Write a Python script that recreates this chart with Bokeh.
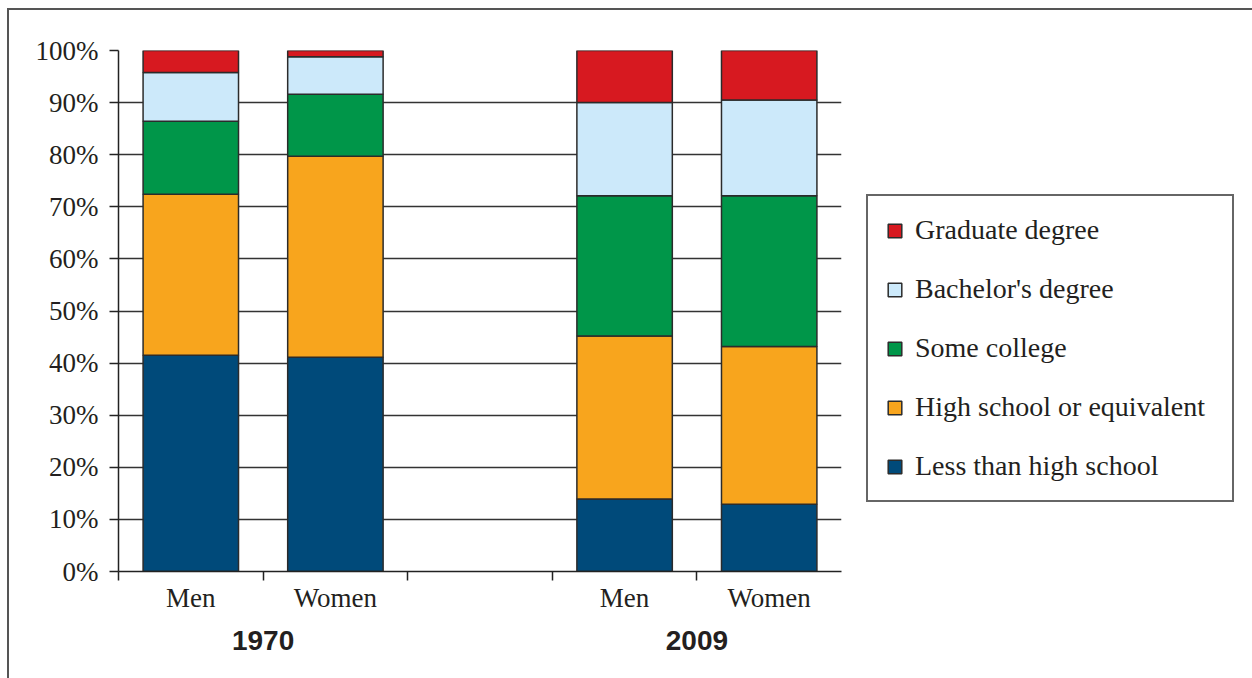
from bokeh.plotting import figure
from bokeh.models import (Range1d, FixedTicker, PrintfTickFormatter, LinearAxis,
                          Legend, LegendItem)
from bokeh.embed import file_html
from bokeh.resources import INLINE

# ---- data ----
years = ["1970", "1970", "2009", "2009"]
sexes = ["Men", "Women", "Men", "Women"]
levels = ["Less than high school", "High school or equivalent", "Some college",
          "Bachelor's degree", "Graduate degree"]
less_than_hs = [41.5, 41.1, 13.9, 12.9]
high_school = [30.9, 38.6, 31.3, 30.3]
some_college = [14.0, 11.9, 26.9, 28.9]
bachelors = [9.4, 7.2, 17.9, 18.4]
graduate = [4.2, 1.2, 10.0, 9.5]
colors = ["#004A7A", "#F8A51D", "#009649", "#CCE9FA", "#D71920"]
y_ticks = list(range(0, 101, 10))

# slot positions: one empty slot between the two year groups
group_order = ["1970", "2009"]
pos = [i + 0.5 + group_order.index(y) for i, y in enumerate(years)]
n_slots = len(years) + len(group_order) - 1
bounds = list(range(n_slots))
group_centers = [sum(p_ for p_, y in zip(pos, years) if y == g) / years.count(g)
                 for g in group_order]

data = dict(x=pos)
keys = ["lths", "hs", "sc", "ba", "gr"]
for k, arr in zip(keys, [less_than_hs, high_school, some_college, bachelors, graduate]):
    data[k] = arr

serif = "Liberation Serif"
txt = "#231F20"

p = figure(frame_width=723, frame_height=521, output_backend="svg", toolbar_location=None,
           x_range=Range1d(0, n_slots), y_range=Range1d(0, 100),
           min_border_left=111, min_border_right=411, min_border_top=42,
           min_border_bottom=107)
p.background_fill_color = None
p.border_fill_color = None
p.outline_line_color = None
p.styles = {"box-shadow": "inset 2px 2px 0 0 #555555",
            "margin-left": "7px", "margin-top": "8px"}

renderers = p.vbar_stack(keys, x="x", width=0.66, source=data, color=colors,
                         line_color="#2b2b2b", line_width=1.5)

# y axis
ya = p.yaxis[0]
ya.ticker = FixedTicker(ticks=y_ticks)
ya.formatter = PrintfTickFormatter(format="%d%%")
ya.major_tick_out = 9
ya.major_tick_in = 0
ya.minor_tick_line_color = None
ya.axis_line_color = "#222"
ya.axis_line_width = 1.5
ya.major_tick_line_color = "#222"
ya.major_tick_line_width = 1.5
ya.major_label_text_font = serif
ya.major_label_text_font_size = "27px"
ya.major_label_text_color = txt
ya.major_label_standoff = 11

p.ygrid.ticker = FixedTicker(ticks=y_ticks)
p.ygrid.grid_line_color = "#333"
p.ygrid.grid_line_width = 1.3
p.xgrid.visible = False

# x axis (category labels, ticks at slot boundaries)
xa = p.xaxis[0]
xa.ticker = FixedTicker(ticks=pos, minor_ticks=bounds)
xa.major_label_overrides = {p_: s for p_, s in zip(pos, sexes)}
xa.major_tick_out = 0
xa.major_tick_in = 0
xa.major_tick_line_color = None
xa.minor_tick_out = 9
xa.minor_tick_in = 0
xa.minor_tick_line_color = "#222"
xa.minor_tick_line_width = 1.5
xa.axis_line_color = "#222"
xa.axis_line_width = 1.5
xa.major_label_text_font = serif
xa.major_label_text_font_size = "27px"
xa.major_label_text_color = txt
xa.major_label_standoff = 2

# group axis (years)
ga = LinearAxis(ticker=FixedTicker(ticks=group_centers),
                major_label_overrides={c: g for c, g in zip(group_centers, group_order)})
ga.axis_line_color = None
ga.major_tick_line_color = None
ga.minor_tick_line_color = None
ga.major_tick_out = 0
ga.major_tick_in = 0
ga.major_label_text_font = "Liberation Sans"
ga.major_label_text_font_style = "bold"
ga.major_label_text_font_size = "28px"
ga.major_label_text_color = txt
ga.major_label_standoff = 15
p.add_layout(ga, "below")

# legend
items = [LegendItem(label=lab, renderers=[r]) for lab, r in zip(levels, renderers)][::-1]
legend = Legend(items=items, location=(25, 69))
legend.border_line_color = "#666"
legend.border_line_alpha = 1.0
legend.border_line_width = 2
legend.padding = 18
legend.spacing = 27
legend.margin = 0
legend.glyph_width = 17
legend.glyph_height = 17
legend.label_standoff = 12
legend.label_width = 299
legend.label_text_font = serif
legend.label_text_font_size = "28px"
legend.label_text_color = txt
legend.label_text_baseline = "middle"
p.add_layout(legend, "right")

open("out.html", "w").write(file_html(p, INLINE))
